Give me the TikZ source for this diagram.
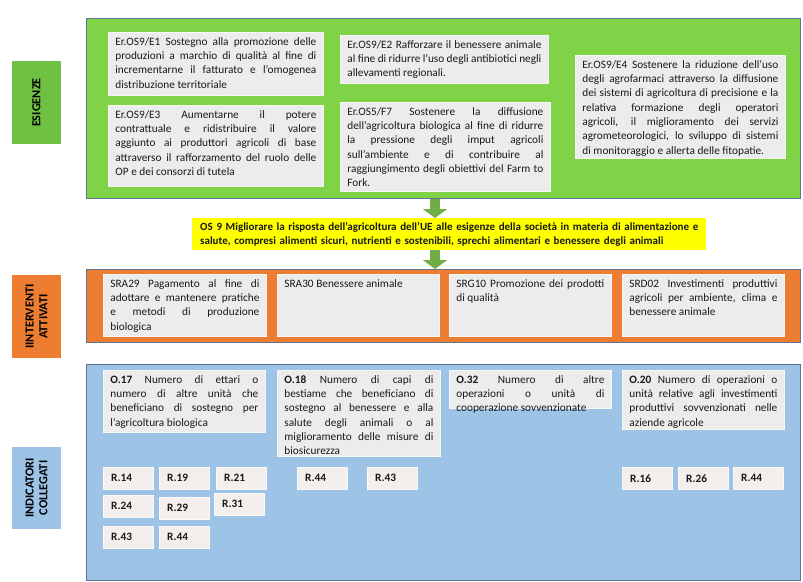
\documentclass[tikz,border=0pt]{standalone}
\usepackage{fontspec}
\setmainfont{Carlito}
\usetikzlibrary{arrows.meta}
\definecolor{gpanel}{RGB}{128,210,70}
\definecolor{glabel}{RGB}{112,192,68}
\definecolor{opanel}{RGB}{237,125,49}
\definecolor{bpanel}{RGB}{157,195,230}
\definecolor{boxfill}{RGB}{236,236,236}
\definecolor{rfill}{RGB}{243,239,237}
\definecolor{agreen}{RGB}{112,173,71}
\definecolor{pedge}{RGB}{95,115,145}
\definecolor{ylw}{RGB}{255,255,0}
\newcommand\fsbox{\fontsize{11.3}{14.3}\selectfont}
\newcommand\fslab{\fontsize{12.3}{13.8}\selectfont\bfseries}
\newcommand\tbox[6]{%
  \pgfmathsetlengthmacro\tbw{#4-#2-14}%
  \pgfmathsetlengthmacro\tbh{#5-#3-10}%
  \node[inbox] (#1) at (#2,#3) {\parbox[t][\tbh][t]{\tbw}{#6}};}
\begin{document}
\begin{tikzpicture}[x=1pt,y=-1pt,
  panel/.style={draw=pedge, line width=0.8pt, anchor=north west, inner sep=0pt},
  lab/.style={rotate=90, inner sep=0pt, align=center, font=\fslab, text=black},
  inbox/.style={fill=boxfill, draw=white!60!boxfill, line width=0.8pt, anchor=north west,
    inner xsep=7pt, inner ysep=5pt, font=\fsbox, text=black!90},
  rbox/.style={fill=rfill, draw=white!60!rfill, anchor=north west, inner xsep=8pt, inner ysep=0pt,
    text width=34pt, minimum height=22pt, align=left, text=black!90,
    font=\fontsize{11.3}{12}\selectfont\bfseries},
  barrow/.style={draw=agreen, line width=10pt, -{Triangle[width=24pt,length=9pt]}}
]
\useasboundingbox[fill=white] (0,0) rectangle (803,581);

% ---------------- ESIGENZE ----------------
\node[panel, fill=gpanel, minimum width=714pt, minimum height=180pt] (gp) at (86,18) {};
\node[lab, fill=glabel, minimum width=83pt, minimum height=49pt] (esl) at (36.5,102.5) {ESIGENZE};

\tbox{e1}{108}{32}{323}{95}{Er.OS9/E1 Sostegno alla promozione delle\linebreak produzioni a marchio di qualità al fine di\linebreak incrementarne il fatturato e l’omogenea\linebreak distribuzione territoriale}
\tbox{e2}{340}{35}{548}{83}{Er.OS9/E2 Rafforzare il benessere animale\linebreak al fine di ridurre l’uso degli antibiotici negli\linebreak allevamenti regionali.}
\tbox{e3}{108}{105}{323}{186}{Er.OS9/E3 Aumentarne il potere\linebreak contrattuale e ridistribuire il valore\linebreak aggiunto ai produttori agricoli di base\linebreak attraverso il rafforzamento del ruolo delle\linebreak OP e dei consorzi di tutela}
\tbox{f7}{340}{102}{550}{191}{Er.OS5/F7 Sostenere la diffusione\linebreak dell’agricoltura biologica al fine di ridurre\linebreak la pressione degli imput agricoli\linebreak sull’ambiente e di contribuire al\linebreak raggiungimento degli obiettivi del Farm to\linebreak Fork.}
\tbox{e4}{575}{55}{785}{158}{Er.OS9/E4 Sostenere la riduzione dell’uso\linebreak degli agrofarmaci attraverso la diffusione\linebreak dei sistemi di agricoltura di precisione e la\linebreak relativa formazione degli operatori\linebreak agricoli, il miglioramento dei servizi\linebreak agrometeorologici, lo sviluppo di sistemi\linebreak di monitoraggio e allerta delle fitopatie.}

% ---------------- OS 9 ----------------
\node[fill=ylw, anchor=north west, minimum width=514pt, minimum height=32pt, inner xsep=8pt, inner ysep=2pt,
  text width=498pt, align=left, text=black!90, font=\fontsize{11}{14}\selectfont\bfseries] (ys) at (192,218)
  {OS 9 Migliorare la risposta dell’agricoltura dell’UE alle esigenze della società in materia di alimentazione e\\
   salute, compresi alimenti sicuri, nutrienti e sostenibili, sprechi alimentari e benessere degli animali};

% ---------------- INTERVENTI ----------------
\node[panel, fill=opanel, minimum width=714pt, minimum height=73pt] (op) at (86,269) {};
\node[lab, fill=opanel, minimum width=83pt, minimum height=49pt] (inl) at (36.5,316.5) {IINTERVENTI\\ATTIVATI};

\tbox{sra29}{103}{274}{266}{336}{SRA29 Pagamento al fine di\linebreak adottare e mantenere pratiche\linebreak e metodi di produzione\linebreak biologica}
\tbox{sra30}{277}{274}{439}{336}{SRA30 Benessere animale}
\tbox{srg10}{449}{274}{611}{336}{SRG10 Promozione dei prodotti\linebreak di qualità}
\tbox{srd02}{622}{274}{784}{336}{SRD02 Investimenti produttivi\linebreak agricoli per ambiente, clima e\linebreak benessere animale}

% ---------------- INDICATORI ----------------
\node[panel, fill=bpanel, minimum width=714pt, minimum height=216pt] (bp) at (86,364) {};
\node[lab, fill=bpanel, minimum width=82pt, minimum height=49pt] (icl) at (36.5,488) {INDICATORI\\COLLEGATI};

\tbox{o17}{103}{370}{265}{432}{\textbf{O.17} Numero di ettari o\linebreak numero di altre unità che\linebreak beneficiano di sostegno per\linebreak l'agricoltura biologica}
\tbox{o18}{277}{370}{440}{456}{\textbf{O.18} Numero di capi di\linebreak bestiame che beneficiano di\linebreak sostegno al benessere e alla\linebreak salute degli animali o al\linebreak miglioramento delle misure di\linebreak biosicurezza}
\tbox{o32}{449}{370}{611}{408}{\textbf{O.32} Numero di altre\linebreak operazioni o unità di\linebreak cooperazione sovvenzionate}
\tbox{o20}{622}{370}{784}{429}{\textbf{O.20} Numero di operazioni o\linebreak unità relative agli investimenti\linebreak produttivi sovvenzionati nelle\linebreak aziende agricole}

\node[rbox] (r14a) at (103,467) {R.14};
\node[rbox] (r19a) at (159,467) {R.19};
\node[rbox] (r21a) at (216,467) {R.21};
\node[rbox] (r24a) at (103,495) {R.24};
\node[rbox] (r29a) at (159,497) {R.29};
\node[rbox] (r31a) at (214,493) {R.31};
\node[rbox] (r43a) at (103,526) {R.43};
\node[rbox] (r44a) at (159,526) {R.44};
\node[rbox] (r44b) at (297,467) {R.44};
\node[rbox] (r43b) at (367,467) {R.43};
\node[rbox] (r16d) at (622,467) {R.16};
\node[rbox] (r26d) at (678,467) {R.26};
\node[rbox] (r44d) at (733,467) {R.44};

% ---------------- arrows ----------------
\coordinate (ax) at (435,0);
\draw[barrow] (gp.south -| ax) -- (ys.north -| ax);
\draw[barrow] (ys.south -| ax) -- (op.north -| ax);
\end{tikzpicture}
\end{document}
